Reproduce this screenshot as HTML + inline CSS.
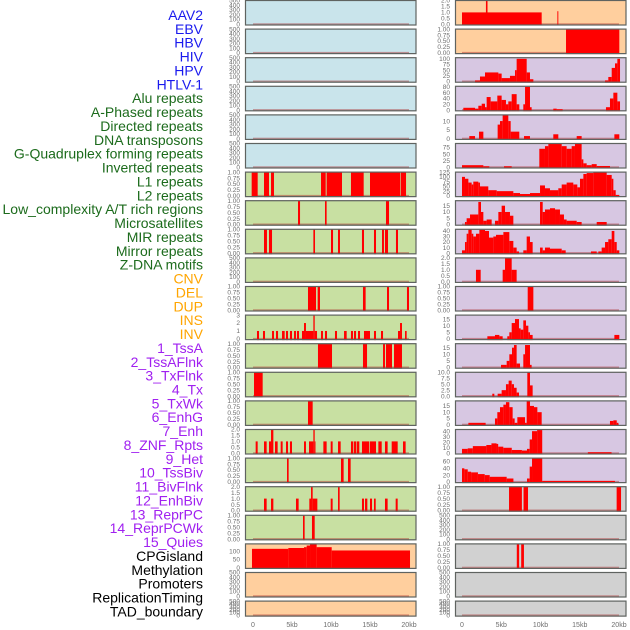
<!DOCTYPE html>
<html><head><meta charset="utf-8"><style>
html,body{margin:0;padding:0;background:#fff;width:630px;height:630px;overflow:hidden}
svg{display:block;font-family:"Liberation Sans",sans-serif}
</style></head><body>
<svg id="chart" width="630" height="630" viewBox="0 0 630 630" xmlns="http://www.w3.org/2000/svg">
<g id="labels"></g>
<g id="panels"></g>
<g id="xaxes"></g>
</svg>
<script>
const trackLabels = ["AAV2","EBV","HBV","HIV","HPV","HTLV-1","Alu repeats","A-Phased repeats","Directed repeats","DNA transposons","G-Quadruplex forming repeats","Inverted repeats","L1 repeats","L2 repeats","Low_complexity A/T rich regions","Microsatellites","MIR repeats","Mirror repeats","Z-DNA motifs","CNV","DEL","DUP","INS","INV","1_TssA","2_TssAFlnk","3_TxFlnk","4_Tx","5_TxWk","6_EnhG","7_Enh","8_ZNF_Rpts","9_Het","10_TssBiv","11_BivFlnk","12_EnhBiv","13_ReprPC","14_ReprPCWk","15_Quies","CPGisland","Methylation","Promoters","ReplicationTiming","TAD_boundary"];
const labelGroups = ["virus","virus","virus","virus","virus","virus","rep","rep","rep","rep","rep","rep","rep","rep","rep","rep","rep","rep","rep","sv","sv","sv","sv","sv","hmm","hmm","hmm","hmm","hmm","hmm","hmm","hmm","hmm","hmm","hmm","hmm","hmm","hmm","hmm","other","other","other","other","other"];
const xTickLabels = ["0","5kb","10kb","15kb","20kb"];
const xTickValues = [0,5,10,15,20];

// segments: [startKb, endKb, value]
const L06=[[-0.17,0.6,1],[1.41,2.05,1],[2.31,2.69,1],[8.72,9.32,1],[9.44,11.41,1],[12.56,14.19,1],[15.0,18.85,1],[18.93,19.62,1]];
const L07=[[5.77,6.03,1],[9.23,9.44,1],[17.05,17.44,1]];
const L08=[[1.41,1.79,1],[2.05,2.44,1],[7.74,7.95,1],[10.0,10.26,1],[10.9,11.15,1],[13.97,14.23,1],[15.51,15.77,1],[16.54,16.79,1],[16.92,17.31,1],[18.33,18.59,1]];
const L10=[[7.05,8.08,1],[8.29,8.59,1],[14.1,14.44,1],[17.18,17.44,1],[19.74,20.0,1]];
const L11=[[0.51,0.77,1],[1.28,1.54,1],[2.44,2.69,1],[2.95,3.21,1],[3.72,4.06,1],[4.23,4.49,1],[4.74,5.0,1],[5.26,5.51,1],[5.64,5.9,1],[6.28,6.54,1],[6.54,6.79,2],[6.79,7.74,1],[7.74,7.91,3],[7.91,8.21,1],[8.72,8.97,1],[9.23,9.49,1],[10.51,10.77,1],[11.67,12.01,1],[12.56,12.82,1],[12.95,13.21,1],[13.46,13.72,1],[14.23,15.0,1],[15.51,15.77,1],[16.41,16.67,1],[18.59,18.85,1],[18.85,19.1,2],[19.49,19.7,1]];
const L12=[[8.33,10.13,1],[14.1,14.62,1],[16.67,16.92,1],[17.05,17.82,1],[18.08,19.1,1]];
const L13=[[0.13,1.24,1]];
const L14=[[7.05,7.65,1]];
const L15=[[0.34,0.6,1],[1.41,1.75,1],[2.05,2.31,1],[2.31,2.61,2],[2.82,3.16,1],[3.55,3.8,1],[4.23,4.49,1],[4.74,5.0,1],[6.54,6.79,1],[7.18,7.74,1],[7.74,7.91,2],[7.91,7.95,1],[9.02,9.44,1],[9.96,10.21,1],[10.9,11.24,1],[12.56,12.86,1],[12.95,13.21,1],[13.29,13.63,1],[13.97,14.91,1],[15.0,15.77,1],[16.07,16.5,1],[16.92,17.26,1],[17.78,18.55,1],[19.23,19.57,1]];
const L16=[[4.36,4.57,1],[11.28,11.62,1],[12.18,12.52,1]];
const L17=[[1.41,1.75,1],[2.31,2.61,1],[5.51,5.85,1],[7.22,7.44,1],[7.44,7.65,2],[7.65,8.25,1],[9.96,10.21,1],[10.9,11.11,2],[13.97,14.23,1],[14.36,14.66,1],[15.0,15.26,1],[15.51,15.73,1],[16.92,17.26,1],[18.29,18.55,1]];
const L18=[[6.41,6.62,1],[7.56,7.91,1]];
const L19=[[-0.13,4.53,115],[4.53,6.54,120],[6.54,6.88,125],[6.88,7.31,135],[7.31,8.16,145],[8.16,10.09,125],[10.09,20.13,105]];

const R00=[[0,10.15,1],[3.05,3.25,2],[12.15,12.27,1.1]];
const R01=[[13.25,20.04,1]];
const R02=[[1.66,2.29,5],[2.29,2.93,22],[2.93,4.63,40],[4.63,5.05,35],[5.05,6.11,15],[6.11,6.75,25],[6.75,6.96,50],[6.96,8.24,100],[8.24,8.66,40],[8.66,9.09,10],[18.22,18.64,5],[18.64,19.07,20],[19.07,19.49,60],[19.49,19.79,80],[19.79,20.13,100]];
const R03=[[0.17,1.66,8],[1.66,2.08,5],[2.08,2.51,15],[2.51,2.93,22],[2.93,3.14,10],[3.14,3.65,45],[3.65,4.5,30],[4.5,5.05,50],[5.05,5.6,35],[5.6,5.9,20],[5.9,6.33,30],[6.33,6.96,55],[6.96,7.3,20],[7.81,8.03,20],[8.03,8.66,80],[8.66,8.87,10],[11.63,12.06,5],[12.06,12.82,3],[18.34,18.85,10],[18.85,19.28,40],[19.28,19.79,60],[19.79,20.13,30]];
const R04=[[0.93,1.66,1.5],[2.17,2.72,4],[4.54,4.84,8],[4.84,5.18,10],[5.18,5.9,13.5],[5.9,6.2,10],[6.2,7.3,4],[7.9,8.66,1.5],[11.63,12.27,2.5],[14.61,15.24,1.5],[19.41,20.04,2.5]];
const R05=[[0,2.72,8],[2.72,3.48,4],[5.35,6.33,4],[9.85,10.57,70],[10.57,11.0,80],[11.0,12.7,90],[12.7,13.33,80],[13.33,13.97,70],[13.97,14.39,80],[14.39,15.24,90],[15.24,15.46,30],[15.46,15.88,15],[15.88,16.52,8],[16.52,17.16,12],[17.16,18.85,5]];
const R06=[[0,0.38,100],[0.38,0.81,90],[0.81,1.23,70],[1.23,1.44,60],[1.44,2.08,75],[2.08,2.29,70],[2.29,3.35,50],[3.35,4.42,30],[4.42,6.54,25],[6.54,7.39,15],[7.39,8.66,10],[8.66,9.94,15],[9.94,10.57,55],[10.57,11.21,40],[11.21,12.27,30],[12.27,12.7,40],[12.7,13.33,60],[13.33,14.18,70],[14.18,14.69,60],[14.69,15.03,45],[15.03,15.46,90],[15.46,15.88,115],[15.88,16.73,120],[16.73,18.43,125],[18.43,19.07,110],[19.07,19.28,90],[19.28,19.58,30],[19.58,20.04,5]];
const R07=[[0.38,0.59,2],[0.59,1.02,5],[1.02,2.08,8],[2.08,2.42,18],[2.42,2.72,10],[2.72,3.14,3],[3.14,3.78,4],[4.2,4.63,3],[4.63,5.05,10],[5.05,5.48,15],[5.48,6.11,10],[6.11,6.54,7],[9.94,10.28,18],[10.28,10.57,10],[10.57,11.21,12],[11.21,11.85,13],[11.85,12.48,12],[12.48,12.99,8],[12.99,13.33,4],[13.33,14.61,3],[14.61,15.24,2],[17.16,18.43,2]];
const R08=[[0,0.38,5],[0.38,0.59,20],[0.59,0.81,35],[0.81,1.23,43],[1.23,1.44,35],[1.44,1.78,30],[1.78,2.21,35],[2.21,2.93,42],[2.93,3.44,40],[3.44,3.99,28],[3.99,4.33,30],[4.33,5.27,33],[5.27,6.03,38],[6.03,6.54,22],[6.54,6.96,10],[6.96,7.26,3],[7.81,8.24,5],[8.24,8.66,30],[8.66,9.0,20],[9.94,10.28,10],[10.28,10.57,5],[10.57,11.21,10],[11.21,12.7,8],[12.7,13.21,5],[16.43,17.16,3],[17.37,17.79,3],[17.79,18.22,10],[18.22,18.64,20],[18.64,19.07,25],[19.07,19.41,40],[19.41,19.71,20],[19.71,20.04,5]];
const R09=[[1.78,2.38,1],[5.18,5.48,1],[5.48,6.33,2],[6.33,6.96,1]];
const R10=[[8.37,9.09,1]];
const R11=[[3.23,4.2,2],[4.2,4.76,3],[4.76,5.18,2],[5.77,6.03,2],[6.03,6.33,5],[6.33,6.75,12],[6.75,7.26,15],[7.26,7.47,8],[7.47,7.81,7],[7.81,8.15,14],[8.15,8.45,10],[8.45,8.66,5],[8.66,9.0,3],[19.41,20.04,3]];
const R12=[[4.97,5.69,2],[5.69,6.03,5],[6.03,6.37,10],[6.37,6.62,15],[6.62,6.96,17],[6.96,7.39,3],[7.81,8.03,10],[8.03,8.66,17],[8.66,8.87,2]];
const R13=[[3.86,4.12,1],[4.54,5.05,1],[5.05,5.6,2.5],[5.6,5.94,5],[5.94,6.33,6.5],[6.33,6.62,5],[6.62,6.96,3.5],[6.96,7.26,1.5],[8.32,8.66,10],[8.66,9.0,4.5]];
const R14=[[0.81,3.01,1.5],[4.2,4.5,5],[4.5,4.84,10],[4.84,5.27,14],[5.27,5.6,16],[5.6,6.03,18],[6.03,6.45,14],[6.45,6.71,5],[6.71,7.05,1.5],[7.05,8.03,6],[8.03,8.24,1.5],[8.24,8.66,19],[8.66,9.17,15],[9.17,9.6,14],[9.6,10.15,10],[18.85,19.28,3],[19.28,19.71,3.5],[19.71,19.92,1.5]];
const R15=[[0,0.73,8],[0.73,1.38,9],[1.38,3.1,13],[3.1,3.75,15],[3.75,4.4,18],[4.4,4.61,17],[4.61,5.26,12],[5.26,6.34,10],[6.34,7.63,6],[7.63,8.28,5],[8.28,8.62,8],[8.62,8.92,25],[8.92,9.57,40],[9.57,10.22,42],[16.03,19.05,2]];
const R16=[[0,0.3,40],[0.3,0.73,37],[0.73,1.16,30],[1.16,2.03,28],[2.03,2.89,23],[2.89,3.53,20],[3.53,5.69,15],[5.69,6.55,10],[8.28,8.62,10],[8.62,8.92,45],[8.92,10.22,70],[10.22,19.48,3]];
const R17=[[5.99,7.63,1],[7.84,8.41,1],[19.7,20.26,1]];
const R19=[[6.98,7.28,1],[7.54,7.89,1]];

const T500=[0,100,200,300,400,500], T1=[0,0.25,0.5,0.75,1], T2=[0,0.5,1,1.5,2];
// per row: data, yMax, ticks, background
const leftData=[[],[],[],[],[],[],L06,L07,L08,[],L10,L11,L12,L13,L14,L15,L16,L17,L18,L19,[],[]];
const leftMax=[500,500,500,500,500,500,1,1,1,500,1,3,1,1,1,2,1,2,1,145,500,500];
const leftTicks=[T500,T500,T500,T500,T500,T500,T1,T1,T1,T500,T1,[0,1,2,3],T1,T1,T1,T2,T1,T2,T1,[0,50,100],T500,T500];
const leftBg=["blue","blue","blue","blue","blue","blue","green","green","green","green","green","green","green","green","green","green","green","green","green","orange","orange","orange"];
const rightData=[R00,R01,R02,R03,R04,R05,R06,R07,R08,R09,R10,R11,R12,R13,R14,R15,R16,R17,[],R19,[],[]];
const rightMax=[2,1,105,82,13.5,90,125,19,43,2,1,18,18,10,19,43,70,1,500,1,500,500];
const rightTicks=[T2,T1,[0,25,50,75,100],[0,20,40,60,80],[0,5,10],[0,25,50,75],[0,25,50,75,100,125],[0,5,10,15],[0,10,20,30,40],T2,T1,[0,5,10,15],[0,5,10,15],[0,2.5,5,7.5,10],[0,5,10,15],[0,10,20,30,40],[0,20,40,60],T1,T500,T1,T500,T500];
const rightBg=["orange","orange","purple","purple","purple","purple","purple","purple","purple","purple","purple","purple","purple","purple","purple","purple","purple","gray","gray","gray","gray","gray"];

const NS="http://www.w3.org/2000/svg";
const BG={blue:"#c9e4eb",green:"#c8e0a2",orange:"#ffcf9e",purple:"#d7c7e2",gray:"#d1d1d1"};
const LC={virus:"#1a1aee",rep:"#1c6b1c",sv:"#ffa500",hmm:"#a020f0",other:"#000"};
function mk(tag,attrs,parent){const e=document.createElementNS(NS,tag);for(const k in attrs)e.setAttribute(k,attrs[k]);parent.appendChild(e);return e;}
function fmt(t,ticks){const dec=ticks.some(v=>Math.round(v*100)%100!==0)?(ticks.some(v=>Math.round(v*100)%50!==0)?2:1):0;if(ticks===T1)return t.toFixed(2);if(ticks===T2)return t.toFixed(1);return dec?t.toFixed(dec):String(t);}

const labG=document.getElementById('labels');
trackLabels.forEach((s,i)=>{
  const t=mk('text',{x:203,y:(15+i*13.87+5).toFixed(1),'text-anchor':'end','font-size':'14',fill:LC[labelGroups[i]]},labG);
  
  
  t.textContent=s;
});

const panG=document.getElementById('panels');
const cols=[{x0:245,x1:416.5,zero:253,scale:7.8,data:leftData,max:leftMax,ticks:leftTicks,bg:leftBg,name:'left'},
            {x0:455,x1:626.5,zero:462,scale:7.85,data:rightData,max:rightMax,ticks:rightTicks,bg:rightBg,name:'right'}];
cols.forEach(c=>{
  const xs=kb=>c.zero+kb*c.scale;
  for(let i=0;i<22;i++){
    const top=i*28.6, h=(i===21)?16:25.5, bot=top+h;
    const g=mk('g',{},panG);
    
    
    const bg=mk('rect',{x:c.x0,y:top,width:c.x1-c.x0,height:h,fill:BG[c.bg[i]]},g);
    
    
    const ys=v=>bot-1.2-(v/c.max[i])*(h-1.7);
    // baseline
    const bl=mk('rect',{x:xs(0),y:bot-2.2,width:xs(20)-xs(0),height:2,fill:'rgba(170,40,40,0.45)'},g);
    
    
    c.data[i].forEach(s=>{
      const x0=Math.max(c.x0,xs(s[0])), x1=Math.min(c.x1,xs(s[1]));
      const y=Math.max(top,ys(s[2]));
      const r=mk('rect',{x:x0.toFixed(2),y:y.toFixed(2),width:Math.max(0.8,x1-x0).toFixed(2),height:(bot-y).toFixed(2),fill:'#ff0000'},g);
      
      
    });
    const br=mk('rect',{x:c.x0+0.5,y:top+0.5,width:c.x1-c.x0-1,height:h-1,fill:'none',stroke:'#5f6360','stroke-width':'1.2'},g);
    
    
    c.ticks[i].forEach(t=>{
      const tt=mk('text',{x:c.x0-5,y:(ys(t)+2.2).toFixed(1),'text-anchor':'end','font-size':'6.5',fill:'#6e6e6e'},g);
      
      
      tt.textContent=fmt(t,c.ticks[i]);
    });
  }
  const ax=document.getElementById('xaxes');
  xTickValues.forEach((v,k)=>{
    const t=mk('text',{x:xs(v),y:627,'text-anchor':'middle','font-size':'7',fill:'#6e6e6e'},ax);
    
    
    t.textContent=xTickLabels[k];
  });
});
</script>
</body></html>
